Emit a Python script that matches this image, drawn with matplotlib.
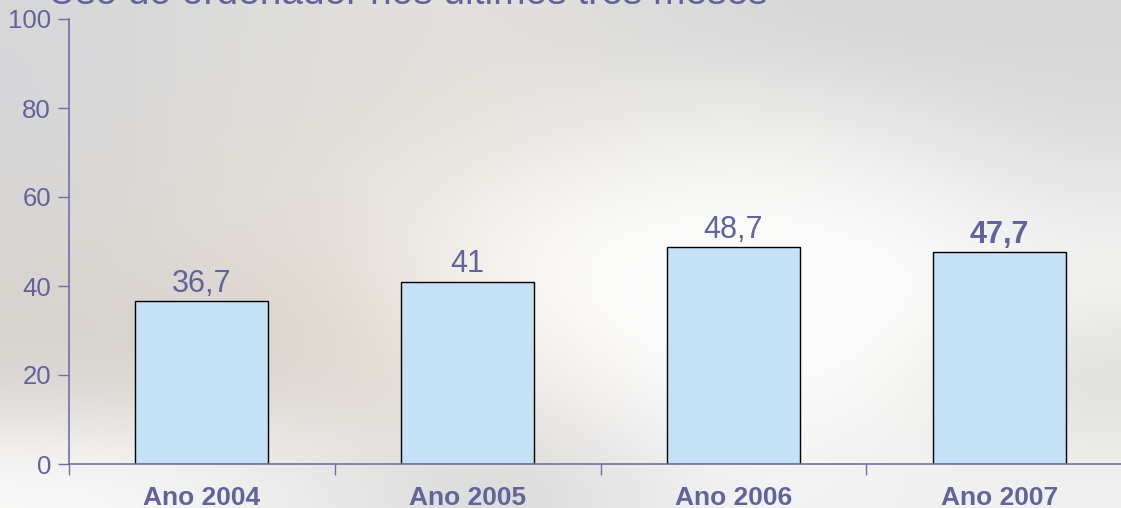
"""
Bar chart: computer use in the last three months, by year.
"""

import matplotlib
matplotlib.use("Agg")
import matplotlib.pyplot as plt
import numpy as np

TITLE = "Uso do ordenador nos últimos tres meses"
YEARS = ["Ano 2004", "Ano 2005", "Ano 2006", "Ano 2007"]
VALUES = [36.7, 41.0, 48.7, 47.7]
VALUE_LABELS = ["36,7", "41", "48,7", "47,7"]
BOLD_LABEL = [False, False, False, True]

TEXT_COLOR = "#63639b"
AXIS_COLOR = "#7070a6"
BAR_COLOR = "#c5e1f6"

# rough colours of the blurred photo behind the chart (rows top -> bottom)
BACKDROP = [
    ["#d7d7d9", "#dbdbdb", "#e0dfdc", "#e3e1dd", "#dcdcdc", "#d8d8d8", "#d6d6d6", "#d8d8d8"],
    ["#d6d6d8", "#dedcd8", "#e2dfda", "#e6e2dc", "#ecebe8", "#f0f0ee", "#e6e6e6", "#dcdcdc"],
    ["#d8d6d4", "#e0dcd6", "#e5e0d8", "#f5f3f0", "#fbfbfa", "#fcfcfb", "#f8f8f8", "#ececec"],
    ["#d8d4d0", "#dcd6d0", "#e2dbd2", "#f8f6f2", "#ffffff", "#fefefe", "#fefefe", "#f4f4f2"],
    ["#d6d2ce", "#d8d2cc", "#e0d8d0", "#ece6de", "#fafafa", "#fcfcfc", "#f8f8f6", "#d8d8d4"],
    ["#fafafa", "#f4f4f4", "#e8e8e8", "#d8d8d8", "#e6e6e6", "#f6f6f6", "#efefef", "#f2f2f2"],
]

plt.rcParams["font.family"] = ["Liberation Sans", "DejaVu Sans"]

fig = plt.figure(figsize=(11.21, 5.08), dpi=100)

bg = fig.add_axes([0, 0, 1, 1], zorder=-1)
rgb = np.array([[matplotlib.colors.to_rgb(c) for c in row] for row in BACKDROP])
bg.imshow(rgb, aspect="auto", interpolation="bicubic", extent=[0, 1, 0, 1])
bg.set_axis_off()

ax = fig.add_axes([69 / 1121, 1 - 464 / 508, 1063 / 1121, 445 / 508])
ax.set_facecolor("none")

x = np.arange(len(YEARS))
bars = ax.bar(x, VALUES, width=0.5, color=BAR_COLOR, edgecolor="black",
              linewidth=1.0, zorder=2)

for rect, label, bold in zip(bars, VALUE_LABELS, BOLD_LABEL):
    ax.annotate(label, (rect.get_x() + rect.get_width() / 2, rect.get_height()),
                xytext=(0, 1.5), textcoords="offset points", ha="center", va="bottom",
                fontsize=22, color=TEXT_COLOR,
                fontweight="bold" if bold else "normal")

ax.set_xlim(-0.5, len(YEARS) - 0.5)
ax.set_ylim(0, 100)
ax.set_yticks([0, 20, 40, 60, 80, 100])

# category boundaries carry the tick marks, the names sit at the centres
ax.set_xticks(np.arange(len(YEARS)) - 0.5)
ax.set_xticklabels([])
ax.set_xticks(x, minor=True)
ax.set_xticklabels(YEARS, minor=True, fontsize=19, fontweight="bold", color=TEXT_COLOR)
ax.tick_params(axis="x", which="minor", length=0, pad=16)
ax.tick_params(axis="x", which="major", direction="out", length=8, width=1,
               color=AXIS_COLOR)
ax.tick_params(axis="y", direction="out", length=8, width=1, color=AXIS_COLOR,
               labelsize=18.5, labelcolor=TEXT_COLOR, pad=5)

for side in ["top", "right"]:
    ax.spines[side].set_visible(False)
for side in ["left", "bottom"]:
    ax.spines[side].set_color(AXIS_COLOR)
    ax.spines[side].set_linewidth(1.2)
ax.spines["bottom"].set_zorder(3)

# the title is cropped at the top edge, as in the source slide
fig.text(48 / 1121, 1 - 4 / 508, TITLE, fontsize=28, color=TEXT_COLOR,
         ha="left", va="baseline")

fig.savefig("out.png", dpi=100)
plt.close(fig)
